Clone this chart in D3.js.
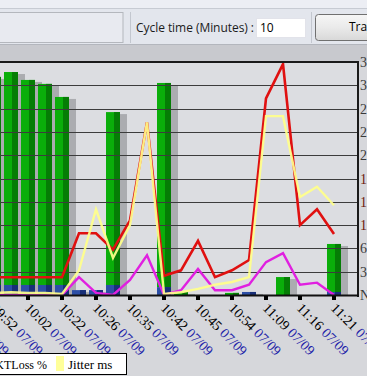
<!DOCTYPE html>
<html>
<head>
<meta charset="utf-8">
<script src="https://cdn.jsdelivr.net/npm/d3@7"></script>
<style>
  html, body { margin: 0; padding: 0; background: #d6d7db; overflow: hidden; }
  svg { display: block; }
</style>
</head>
<body>
<div id="chart"></div>
<script>
// Datos (una categoria cada ~17px, etiqueta cada dos)
var tickLabels = ["09:42", "", "09:52", "", "10:02", "", "10:22", "", "10:26", "", "10:35", "",
                  "10:42", "", "10:45", "", "10:54", "", "11:09", "", "11:16", "", "11:21"];
var dateLabel = "07/09";

// barras apiladas (eje izquierdo, 0-100)
var blueValues  = [4.3, 4.3, 4.3, 4.3, 4.3, 4.3, 4.3, 2.1, 2.1, 4.3, 0, 0, 3.4, 0, 0, 0, 0, 1.3, 0, 0, 0, 0, 1.3];
var greenValues = [85, 84, 89.3, 91.4, 88.0, 86.3, 80.7, 0, 0, 74.2, 0, 0, 87.6, 1.3, 0, 0, 0.9, 0, 0, 7.7, 0, 0, 20.6];

// lineas (eje derecho, 0-34)
var redValues     = [2.6, 2.6, 2.6, 2.6, 2.6, 2.6, 2.6, 9.0, 9.0, 6.6, 10.9, 25.2, 2.8, 3.6, 7.9, 2.6, 3.6, 5.1, 28.7, 33.7, 10.2, 12.5, 8.9];
var magentaValues = [0, 0, 0, 0, 0, 0, 0, 2.6, 0.3, 0, 2.2, 5.8, 0, 0.7, 3.8, 0.7, 0.7, 1.5, 4.8, 6.1, 1.5, 1.8, 0];
var yellowValues  = [0.3, 0.3, 0.3, 0.4, 0.3, 0.3, 0.15, 3.6, 12.5, 5.4, 10.2, 25.2, 0.15, 0.4, 0.9, 1.5, 1.9, 2.6, 26.1, 26.1, 14.3, 15.8, 13.1];

var rightTicks = [0, 3.4, 6.8, 10.2, 13.6, 17, 20.4, 23.8, 27.2, 30.6, 34];
var rightTickLabels = ["N", "3.4", "6.8", "10.2", "13.6", "17", "20.4", "23.8", "27.2", "30.6", "34"];

var W = 367, H = 376;
var plot = { left: -60, right: 358, top: 62, bottom: 295 };

var svg = d3.select("#chart").append("svg")
  .attr("width", W).attr("height", H);

// ---- barra de herramientas superior ----
var grad = svg.append("defs").append("linearGradient")
  .attr("id", "btn").attr("x1", 0).attr("y1", 0).attr("x2", 0).attr("y2", 1);
grad.append("stop").attr("offset", "0%").attr("stop-color", "#f6f6f6");
grad.append("stop").attr("offset", "50%").attr("stop-color", "#eaeaea");
grad.append("stop").attr("offset", "100%").attr("stop-color", "#d8d8d8");

svg.append("rect").attr("x", 0).attr("y", 0).attr("width", W).attr("height", 45).attr("fill", "#e3e6ed");
svg.append("rect").attr("x", 0).attr("y", 0).attr("width", W).attr("height", 8).attr("fill", "#eceef4");
svg.append("line").attr("x1", 0).attr("x2", W).attr("y1", 8.5).attr("y2", 8.5).attr("stroke", "#c7cbd3");
svg.append("rect").attr("x", -2).attr("y", 12.5).attr("width", 125).attr("height", 30).attr("fill", "#e8eaf0")
  .attr("stroke", "#b4b7bd");
svg.append("line").attr("x1", 130.5).attr("x2", 130.5).attr("y1", 12).attr("y2", 43).attr("stroke", "#c3c7cf");
svg.append("line").attr("x1", 311.5).attr("x2", 311.5).attr("y1", 12).attr("y2", 43).attr("stroke", "#c3c7cf");
svg.append("line").attr("x1", 0).attr("x2", W).attr("y1", 44.5).attr("y2", 44.5).attr("stroke", "#b3b6bd");

svg.append("text").attr("x", 136).attr("y", 32)
  .attr("font-family", "'Open Sans', 'Noto Sans', sans-serif").attr("font-size", 12)
  .attr("textLength", 118).attr("fill", "#1b1b1b")
  .text("Cycle time (Minutes) :");
svg.append("rect").attr("x", 256.5).attr("y", 18.5).attr("width", 49).attr("height", 19)
  .attr("fill", "#ffffff").attr("stroke", "#e2e3ea");
svg.append("text").attr("x", 260).attr("y", 32)
  .attr("font-family", "'Open Sans', 'Noto Sans', sans-serif").attr("font-size", 12).attr("fill", "#000")
  .text("10");
svg.append("rect").attr("x", 315.5).attr("y", 14.5).attr("width", 60).attr("height", 26).attr("rx", 3)
  .attr("fill", "url(#btn)").attr("stroke", "#707070");
svg.append("text").attr("x", 349).attr("y", 31)
  .attr("font-family", "'Open Sans', 'Noto Sans', sans-serif").attr("font-size", 12).attr("fill", "#000")
  .text("Tray");

// banda gris sobre el grafico
svg.append("rect").attr("x", 0).attr("y", 45).attr("width", W).attr("height", 17).attr("fill", "#c8c9ce");

// ---- escalas ----
var x = d3.scalePoint().domain(d3.range(tickLabels.length)).range([-40, 334]);
var yL = d3.scaleLinear().domain([0, 100]).range([plot.bottom, plot.top]);
var yR = d3.scaleLinear().domain([0, 34]).range([plot.bottom, plot.top]);

svg.append("clipPath").attr("id", "clip").append("rect")
  .attr("x", plot.left).attr("y", plot.top).attr("width", plot.right - plot.left).attr("height", plot.bottom - plot.top);

svg.append("rect").attr("x", 0).attr("y", plot.top).attr("width", plot.right).attr("height", plot.bottom - plot.top)
  .attr("fill", "#dcdde1");

var g = svg.append("g").attr("clip-path", "url(#clip)");

// datos de barras
var bars = d3.range(tickLabels.length).map(function(i) {
  return { i: i, blue: blueValues[i], green: greenValues[i], total: blueValues[i] + greenValues[i] };
}).filter(function(d) { return d.total > 0; });

var bw = 14;

// sombras
g.selectAll(".shadow").data(bars).enter().append("rect")
  .attr("class", "shadow")
  .attr("x", function(d) { return x(d.i) - bw / 2 + 7; })
  .attr("y", function(d) { return yL(d.total) + 2; })
  .attr("width", bw)
  .attr("height", function(d) { return plot.bottom - yL(d.total) - 2; })
  .attr("fill", "#abacb0");

// segmento verde (arriba)
var greenBars = bars.filter(function(d) { return d.green > 0; });
g.selectAll(".green").data(greenBars).enter().append("rect")
  .attr("class", "green")
  .attr("x", function(d) { return x(d.i) - bw / 2; })
  .attr("y", function(d) { return yL(d.total); })
  .attr("width", bw)
  .attr("height", function(d) { return yL(d.blue) - yL(d.total); })
  .attr("fill", "#0aae0a");
g.selectAll(".green-dark").data(greenBars).enter().append("rect")
  .attr("class", "green-dark")
  .attr("x", function(d) { return x(d.i) + 1; })
  .attr("y", function(d) { return yL(d.total); })
  .attr("width", bw / 2 - 1)
  .attr("height", function(d) { return yL(d.blue) - yL(d.total); })
  .attr("fill", "#057d05");

// segmento azul (abajo)
var blueBars = bars.filter(function(d) { return d.blue > 0; });
g.selectAll(".blue").data(blueBars).enter().append("rect")
  .attr("class", "blue")
  .attr("x", function(d) { return x(d.i) - bw / 2; })
  .attr("y", function(d) { return yL(d.blue); })
  .attr("width", bw)
  .attr("height", function(d) { return plot.bottom - yL(d.blue); })
  .attr("fill", "#2c4ea6");
g.selectAll(".blue-dark").data(blueBars).enter().append("rect")
  .attr("class", "blue-dark")
  .attr("x", function(d) { return x(d.i) + 1; })
  .attr("y", function(d) { return yL(d.blue); })
  .attr("width", bw / 2 - 1)
  .attr("height", function(d) { return plot.bottom - yL(d.blue); })
  .attr("fill", "#182f78");

// lineas de cuadricula (por encima de las barras)
g.selectAll(".grid").data(rightTicks.slice(1, -1)).enter().append("line")
  .attr("class", "grid")
  .attr("x1", plot.left).attr("x2", plot.right)
  .attr("y1", function(d) { return Math.round(yR(d)) + 0.5; })
  .attr("y2", function(d) { return Math.round(yR(d)) + 0.5; })
  .attr("stroke", "#3c3c3c").attr("stroke-width", 1);

// series de lineas
var line = d3.line()
  .x(function(d, i) { return x(i); });

function drawLine(values, color, width, opacity) {
  g.append("path")
    .datum(values)
    .attr("fill", "none")
    .attr("stroke", color)
    .attr("stroke-width", width)
    .attr("stroke-opacity", opacity)
    .attr("stroke-linejoin", "miter")
    .attr("d", line.y(function(d) { return yR(d); }));
}
drawLine(redValues, "#e01010", 2.6, 1);
drawLine(magentaValues, "#e020e0", 2.4, 1);
drawLine(yellowValues, "#ffff8a", 2.4, 0.92);

// bordes y eje
svg.append("line").attr("x1", 0).attr("x2", plot.right + 1).attr("y1", plot.top).attr("y2", plot.top)
  .attr("stroke", "#1a1a1a").attr("stroke-width", 2);
svg.append("line").attr("x1", plot.right).attr("x2", plot.right).attr("y1", plot.top - 1).attr("y2", plot.bottom + 2)
  .attr("stroke", "#1a1a1a").attr("stroke-width", 2);
svg.append("line").attr("x1", 0).attr("x2", plot.right + 1).attr("y1", plot.bottom + 0.5).attr("y2", plot.bottom + 0.5)
  .attr("stroke", "#111").attr("stroke-width", 2);

// marcas del eje x
var labeled = d3.range(tickLabels.length).filter(function(i) { return tickLabels[i] !== ""; });
svg.selectAll(".tick").data(labeled).enter().append("rect")
  .attr("class", "tick")
  .attr("x", function(i) { return x(i) - 2; })
  .attr("y", plot.bottom + 1)
  .attr("width", 4).attr("height", 4)
  .attr("fill", "#000");

// etiquetas del eje x, rotadas 45 grados
var lbl = svg.selectAll(".xlabel").data(labeled).enter().append("text")
  .attr("class", "xlabel")
  .attr("transform", function(i) { return "translate(" + (x(i) - 4) + "," + 309 + ") rotate(45)"; })
  .attr("font-family", "'Liberation Serif', 'Times New Roman', serif")
  .attr("font-size", 14);
lbl.append("tspan").attr("fill", "#000").text(function(i) { return tickLabels[i]; });
lbl.append("tspan").attr("fill", "#1c1ca8").text(" " + dateLabel);

// etiquetas del eje derecho (cortadas por el borde)
svg.selectAll(".rlabel").data(rightTicks).enter().append("text")
  .attr("class", "rlabel")
  .attr("x", 360)
  .attr("y", function(d) { return yR(d) + 5; })
  .attr("font-family", "'Liberation Serif', 'Times New Roman', serif")
  .attr("font-size", 14)
  .attr("fill", function(d) { return (d >= 10 && d < 20) ? "#6e1a0c" : "#3a3a3a"; })
  .text(function(d, i) { return rightTickLabels[i]; });

// leyenda
var legend = svg.append("g");
legend.append("rect").attr("x", -5.5).attr("y", 353.5).attr("width", 132).attr("height", 21)
  .attr("fill", "#ffffff").attr("stroke", "#000");
legend.append("text").attr("x", 47).attr("y", 369).attr("text-anchor", "end")
  .attr("font-family", "'Liberation Serif', 'Times New Roman', serif").attr("font-size", 12)
  .text("PKTLoss %");
legend.append("rect").attr("x", 56).attr("y", 356).attr("width", 8).attr("height", 15).attr("fill", "#ffff99");
legend.append("text").attr("x", 68).attr("y", 369)
  .attr("font-family", "'Liberation Serif', 'Times New Roman', serif").attr("font-size", 13)
  .text("Jitter ms");
</script>
</body>
</html>
